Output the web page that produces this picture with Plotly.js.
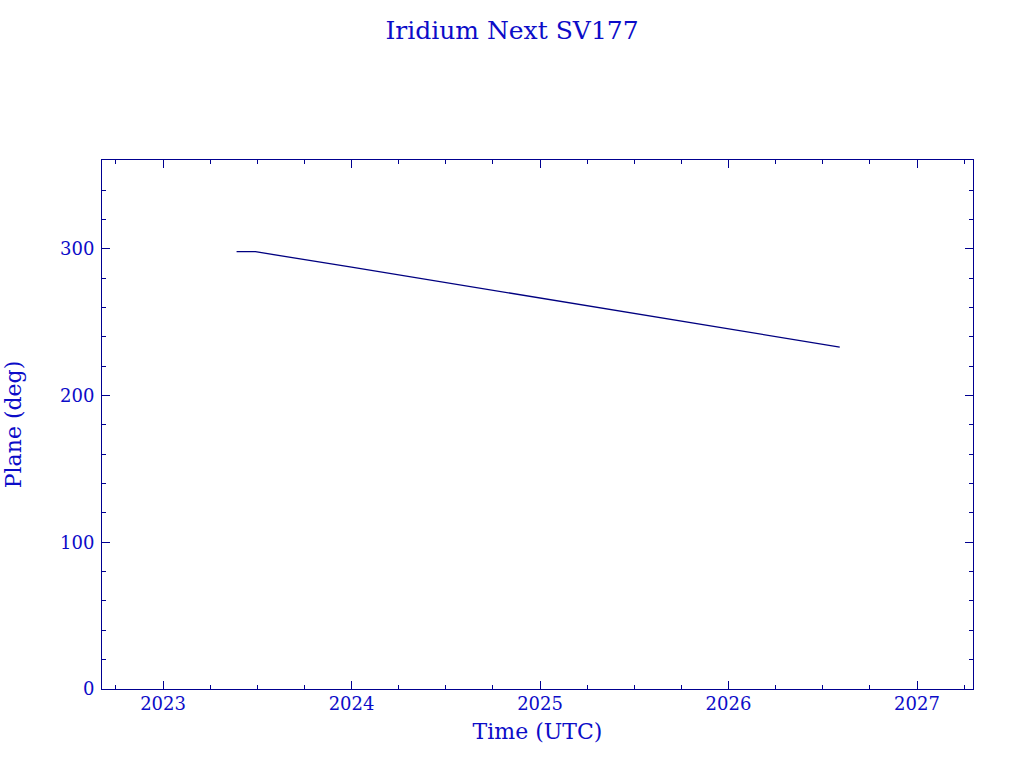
<!DOCTYPE html>
<html>
<head>
<meta charset="utf-8">
<script src="https://cdn.plot.ly/plotly-3.0.1.min.js"></script>
<style>body{margin:0;background:#fff}#chart{width:1024px;height:768px}</style>
</head>
<body>
<div id="chart"></div>
<script>
// plane of orbit vs time
var years = [2023.39, 2023.49, 2024.0, 2025.0, 2026.0, 2026.59];
var plane = [298, 298, 287.5, 266.5, 245.5, 233];
var xTicks = [2023, 2024, 2025, 2026, 2027];
var yTicks = [0, 100, 200, 300];

var txt = '#0c0cc8';
var ax = '#000090';

var trace = {
  x: years,
  y: plane,
  mode: 'lines',
  type: 'scatter',
  line: {color: '#000080', width: 1.3, shape: 'linear'},
  hoverinfo: 'skip'
};

var layout = {
  width: 1024,
  height: 768,
  margin: {l: 102, r: 51, t: 160, b: 79},
  paper_bgcolor: '#fff',
  plot_bgcolor: '#fff',
  showlegend: false,
  font: {family: 'DejaVu Serif, serif', color: txt, size: 16},
  title: {text: 'Iridium Next SV177', x: 0.5, xanchor: 'center', y: 0.961, yanchor: 'middle',
    font: {size: 25, color: txt}},
  xaxis: {
    range: [2022.676, 2027.297],
    tickvals: xTicks,
    ticktext: xTicks.map(String),
    ticks: 'inside', ticklen: 8, tickwidth: 1, tickcolor: ax,
    minor: {dtick: 0.25, tick0: 2023, ticks: 'inside', ticklen: 4, tickcolor: ax},
    showline: true, linecolor: ax, linewidth: 1, mirror: 'ticks',
    showgrid: false, zeroline: false,
    tickfont: {size: 18, color: txt},
    ticklabelstandoff: -2,
    title: {text: 'Time (UTC)', font: {size: 22, color: txt}, standoff: 11}
  },
  yaxis: {
    range: [0, 360.5],
    tickvals: yTicks,
    ticktext: yTicks.map(String),
    ticks: 'inside', ticklen: 8, tickwidth: 1, tickcolor: ax,
    minor: {dtick: 20, tick0: 0, ticks: 'inside', ticklen: 4, tickcolor: ax},
    showline: true, linecolor: ax, linewidth: 1, mirror: 'ticks',
    showgrid: false, zeroline: false,
    tickfont: {size: 18, color: txt},
    ticklabelstandoff: 3,
    title: {text: 'Plane (deg)', font: {size: 22, color: txt}, standoff: 32}
  }
};

Plotly.newPlot('chart', [trace], layout, {staticPlot: true});
</script>
</body>
</html>
